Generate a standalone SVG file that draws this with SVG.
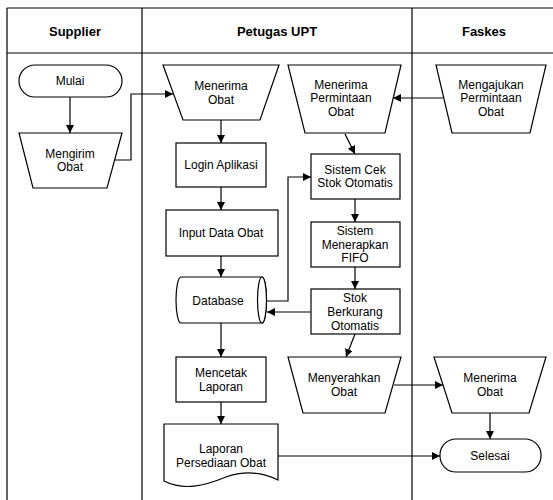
<svg xmlns="http://www.w3.org/2000/svg" width="553" height="500" viewBox="0 0 553 500">
<style>
.s{fill:#fff;stroke:#000;stroke-width:1.2}
.t{font-family:"Liberation Sans",Arial,sans-serif;font-size:12px;fill:#000;text-anchor:middle}
.h{font-family:"Liberation Sans",Arial,sans-serif;font-size:13px;font-weight:bold;fill:#000;text-anchor:middle}
.c{fill:none;stroke:#000;stroke-width:1.2}
.l{fill:none;stroke:#000;stroke-width:1.2}
</style>
<defs>
<marker id="a" viewBox="0 0 10 10" refX="10" refY="5" markerWidth="8" markerHeight="8" markerUnits="userSpaceOnUse" orient="auto">
<path d="M0,0 L10,5 L0,10 Z" fill="#000"/>
</marker>
</defs>
<rect width="553" height="500" fill="#fff"/>
<g id="lanes">
<path class="l" d="M7,8 H553 M7,53 H553 M7,8 V500 M142,8 V500 M412,8 V500"/>
<text class="h" x="75" y="36">Supplier</text>
<text class="h" x="277" y="36">Petugas UPT</text>
<text class="h" x="484" y="36">Faskes</text>
</g>
<g id="connectors">
<path class="c" marker-end="url(#a)" d="M70,97 V133"/>
<path class="c" marker-end="url(#a)" d="M115,160 H131 V94 H173"/>
<path class="c" marker-end="url(#a)" d="M221,120 V143"/>
<path class="c" marker-end="url(#a)" d="M221,187 V210"/>
<path class="c" marker-end="url(#a)" d="M221,256 V277"/>
<path class="c" marker-end="url(#a)" d="M221,323 V357"/>
<path class="c" marker-end="url(#a)" d="M221,402 V424"/>
<path class="c" marker-end="url(#a)" d="M278,456 H440"/>
<path class="c" marker-end="url(#a)" d="M443,98 H393"/>
<path class="c" marker-end="url(#a)" d="M345,134 L355,154"/>
<path class="c" marker-end="url(#a)" d="M355,199 V222"/>
<path class="c" marker-end="url(#a)" d="M355,267 V289"/>
<path class="c" marker-end="url(#a)" d="M311,312 H267"/>
<path class="c" marker-end="url(#a)" d="M266,301 H288 V177 H311"/>
<path class="c" marker-end="url(#a)" d="M355,334 L346,357"/>
<path class="c" marker-end="url(#a)" d="M394,385 H443"/>
<path class="c" marker-end="url(#a)" d="M490,413 V439"/>
</g>
<g id="mulai">
<rect class="s" x="19" y="65" width="103" height="32" rx="16"/>
<text class="t" x="70" y="85">Mulai</text>
</g>
<g id="mengirim">
<path class="s" d="M19,133 H122 L107,188 H33 Z"/>
<text class="t" x="70" y="158">Mengirim</text>
<text class="t" x="70" y="171">Obat</text>
</g>
<g id="menerima-obat-upt">
<path class="s" d="M163,65 H279 L260,120 H183 Z"/>
<text class="t" x="221" y="90">Menerima</text>
<text class="t" x="221" y="104">Obat</text>
</g>
<g id="login">
<rect class="s" x="176" y="143" width="90" height="44"/>
<text class="t" x="221" y="169">Login Aplikasi</text>
</g>
<g id="input">
<rect class="s" x="166" y="210" width="112" height="46"/>
<text class="t" x="221" y="237">Input Data Obat</text>
</g>
<g id="database">
<path class="s" d="M181,277 H262 A4.5,23 0 0 1 262,323 H181 A5,23 0 0 1 181,277 Z"/>
<ellipse class="s" cx="262" cy="300" rx="4.5" ry="23"/>
<text class="t" x="218" y="305">Database</text>
</g>
<g id="mencetak">
<rect class="s" x="176" y="357" width="90" height="45"/>
<text class="t" x="221" y="377">Mencetak</text>
<text class="t" x="221" y="391">Laporan</text>
</g>
<g id="laporan">
<path class="s" d="M164,424 H278 V480 C262,472 246,470 226,477 C204,486 184,491 164,481 Z"/>
<text class="t" x="221" y="453">Laporan</text>
<text class="t" x="221" y="467">Persediaan Obat</text>
</g>
<g id="menerima-permintaan">
<path class="s" d="M288,65 H401 L385,133 H305 Z"/>
<text class="t" x="341" y="89">Menerima</text>
<text class="t" x="341" y="102">Permintaan</text>
<text class="t" x="341" y="116">Obat</text>
</g>
<g id="mengajukan">
<path class="s" d="M436,65 H546 L530,133 H452 Z"/>
<text class="t" x="491" y="89">Mengajukan</text>
<text class="t" x="491" y="102">Permintaan</text>
<text class="t" x="491" y="116">Obat</text>
</g>
<g id="sistem-cek">
<rect class="s" x="311" y="154" width="89" height="45"/>
<text class="t" x="355" y="174">Sistem Cek</text>
<text class="t" x="355" y="187">Stok Otomatis</text>
</g>
<g id="fifo">
<rect class="s" x="311" y="222" width="89" height="45"/>
<text class="t" x="355" y="235">Sistem</text>
<text class="t" x="355" y="249">Menerapkan</text>
<text class="t" x="355" y="262">FIFO</text>
</g>
<g id="stok">
<rect class="s" x="311" y="289" width="89" height="45"/>
<text class="t" x="355" y="302">Stok</text>
<text class="t" x="355" y="316">Berkurang</text>
<text class="t" x="355" y="330">Otomatis</text>
</g>
<g id="menyerahkan">
<path class="s" d="M288,357 H401 L385,413 H303 Z"/>
<text class="t" x="344" y="382">Menyerahkan</text>
<text class="t" x="344" y="396">Obat</text>
</g>
<g id="menerima-obat-faskes">
<path class="s" d="M434,357 H546 L529,413 H452 Z"/>
<text class="t" x="490" y="382">Menerima</text>
<text class="t" x="490" y="396">Obat</text>
</g>
<g id="selesai">
<rect class="s" x="440" y="439" width="101" height="33" rx="16"/>
<text class="t" x="490" y="460">Selesai</text>
</g>
</svg>
